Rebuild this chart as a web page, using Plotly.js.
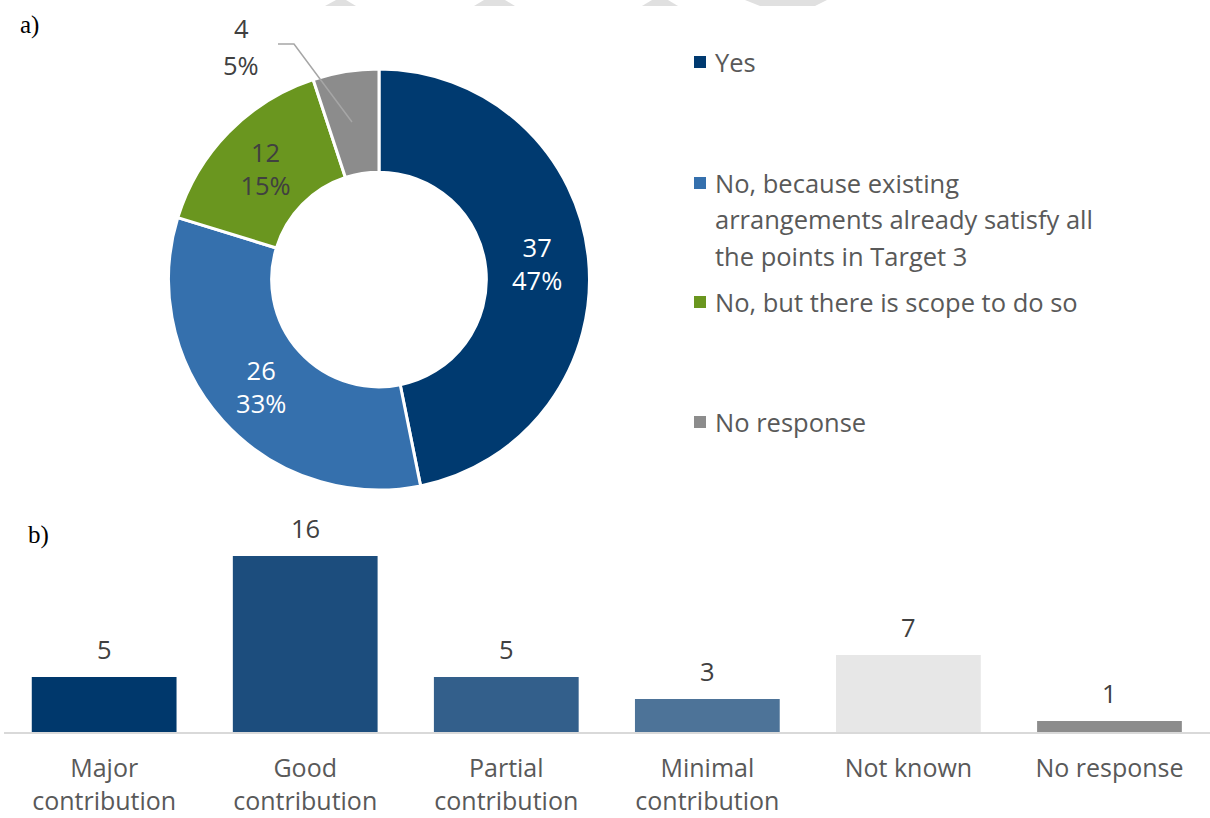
<!DOCTYPE html>
<html>
<head>
<meta charset="utf-8">
<script src="https://cdn.plot.ly/plotly-3.0.1.min.js"></script>
<style>html,body{margin:0;padding:0;background:#fff;}#chart{width:1210px;height:818px;}</style>
</head>
<body>
<div id="chart"></div>
<script>
// ---- Data ----
const pieLabels = ['Yes', 'No, because existing arrangements already satisfy all the points in Target 3', 'No, but there is scope to do so', 'No response'];
const pieValues = [37, 26, 12, 4];
const pieColors = ['#003a70', '#3570ad', '#6a961f', '#8c8c8c'];
const legendLines = [['Yes'], ['No, because existing', 'arrangements already satisfy all', 'the points in Target 3'], ['No, but there is scope to do so'], ['No response']];

const barCategories = ['Major contribution', 'Good contribution', 'Partial contribution', 'Minimal contribution', 'Not known', 'No response'];
const barTickText = ['Major<br>contribution', 'Good<br>contribution', 'Partial<br>contribution', 'Minimal<br>contribution', 'Not known', 'No response'];
const barValues = [5, 16, 5, 3, 7, 1];
const barColors = ['#00386c', '#1c4d7d', '#335f8b', '#4d7398', '#e7e7e7', '#8c8c8c'];

// ---- helpers ----
const W = 1210, H = 818;
const px = x => x / W;
const py = y => 1 - y / H;
const FONT = 'Open Sans, sans-serif';
const FS = 25.5;
const total = pieValues.reduce((a, b) => a + b, 0);

const pieText = pieValues.map((v, i) => i === 3 ? '' : '%{value}<br>%{percent:.0%}');
const pieTextColors = ['#ffffff', '#ffffff', '#404040', '#404040'];

const traces = [
  {
    type: 'pie',
    labels: pieLabels,
    values: pieValues,
    sort: false,
    direction: 'clockwise',
    rotation: 0,
    hole: 0.51,
    marker: {colors: pieColors, line: {color: '#ffffff', width: 3}},
    texttemplate: pieText,
    textposition: 'inside',
    insidetextorientation: 'horizontal',
    textfont: {family: FONT, size: FS, color: pieTextColors},
    domain: {x: [px(168), px(590)], y: [py(490), py(69)]},
    showlegend: false,
    hoverinfo: 'label+value+percent'
  },
  {
    type: 'bar',
    x: barCategories,
    y: barValues,
    marker: {color: barColors},
    xaxis: 'x',
    yaxis: 'y',
    showlegend: false,
    hoverinfo: 'x+y'
  }
];

const annotations = [];
const shapes = [];

// panel letters
annotations.push({text: 'a)', x: px(18), y: py(25), xref: 'paper', yref: 'paper', xanchor: 'left', yanchor: 'middle', showarrow: false, font: {family: 'Liberation Serif, serif', size: 25, color: '#000'}});
annotations.push({text: 'b)', x: px(26), y: py(535), xref: 'paper', yref: 'paper', xanchor: 'left', yanchor: 'middle', showarrow: false, font: {family: 'Liberation Serif, serif', size: 25, color: '#000'}});

// legend (custom, Excel style spacing)
const legendY = [62, 183, 302, 422];
const lineGap = 36.5;
legendLines.forEach((lines, i) => {
  const y0 = legendY[i];
  shapes.push({type: 'rect', xref: 'paper', yref: 'paper', x0: px(694), x1: px(706), y0: py(y0 - 6), y1: py(y0 + 6), fillcolor: pieColors[i], line: {width: 0}});
  lines.forEach((t, k) => {
    annotations.push({text: t, x: px(713), y: py(y0 + k * lineGap), xref: 'paper', yref: 'paper', xanchor: 'left', yanchor: 'middle', showarrow: false, font: {family: FONT, size: FS, color: '#595959'}});
  });
});

// outside label for small slice
const smallLabel = [String(pieValues[3]), Math.round(100 * pieValues[3] / total) + '%'];
annotations.push({text: smallLabel[0], x: px(241), y: py(28), xref: 'paper', yref: 'paper', xanchor: 'center', yanchor: 'middle', showarrow: false, font: {family: FONT, size: FS, color: '#404040'}});
annotations.push({text: smallLabel[1], x: px(241), y: py(65), xref: 'paper', yref: 'paper', xanchor: 'center', yanchor: 'middle', showarrow: false, font: {family: FONT, size: FS, color: '#404040'}});
shapes.push({type: 'path', xref: 'paper', yref: 'paper', path: `M ${px(278)} ${py(44)} L ${px(294)} ${py(44)} L ${px(352)} ${py(122)}`, line: {color: '#a6a6a6', width: 1.5}});

// bar value labels
barCategories.forEach((c, i) => {
  annotations.push({text: String(barValues[i]), x: c, y: barValues[i], xref: 'x', yref: 'y', xanchor: 'center', yanchor: 'bottom', yshift: 9, showarrow: false, font: {family: FONT, size: FS, color: '#404040'}});
});

// faint watermark fragments at top edge
[[325, 356, 336, 346], [474, 515, 484, 505], [642, 678, 652, 668]].forEach(s => {
  shapes.push({type: 'path', xref: 'paper', yref: 'paper', path: `M ${px(s[0])} ${py(6)} L ${px(s[1])} ${py(6)} L ${px(s[3])} ${py(0)} L ${px(s[2])} ${py(0)} Z`, fillcolor: '#e0e0e0', line: {width: 0}, layer: 'below'});
});
shapes.push({type: 'path', xref: 'paper', yref: 'paper', path: `M ${px(745)} ${py(0)} L ${px(827)} ${py(0)} L ${px(815)} ${py(6)} L ${px(760)} ${py(6)} Z`, fillcolor: '#e0e0e0', line: {width: 0}, layer: 'below'});

const layout = {
  width: W, height: H,
  margin: {l: 0, r: 0, t: 0, b: 0},
  paper_bgcolor: '#ffffff', plot_bgcolor: '#ffffff',
  bargap: 0.28,
  xaxis: {
    domain: [0.003, 1], type: 'category',
    showline: true, linecolor: '#d9d9d9', linewidth: 2,
    ticks: '', showgrid: false, zeroline: false,
    tickvals: barCategories, ticktext: barTickText,
    tickfont: {family: FONT, size: 25, color: '#595959'},
    ticklabelstandoff: 13
  },
  yaxis: {
    domain: [py(732), py(512)], range: [0, 20],
    visible: false, showgrid: false, zeroline: false
  },
  annotations: annotations,
  shapes: shapes,
  showlegend: false
};

Plotly.newPlot('chart', traces, layout, {displayModeBar: false, staticPlot: true});
</script>
</body>
</html>
